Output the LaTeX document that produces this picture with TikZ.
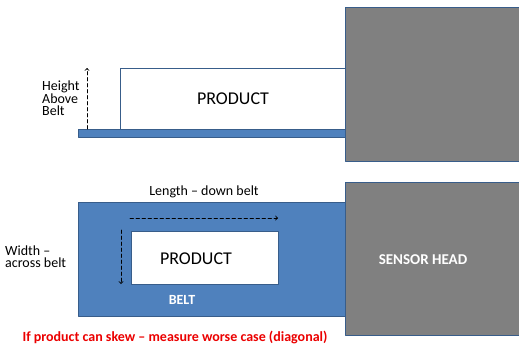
\documentclass[tikz,border=0pt]{standalone}
\usepackage{fontspec}
\setmainfont{Carlito}
\usetikzlibrary{arrows}
\definecolor{beltblue}{RGB}{79,129,189}
\definecolor{edgeblue}{RGB}{56,93,138}
\definecolor{headgray}{RGB}{128,128,128}
\definecolor{warnred}{RGB}{235,0,0}
\newcommand{\smalltxt}{\fontsize{14}{15}\selectfont}
\newcommand{\bigtxt}{\fontsize{18}{20}\selectfont}

\begin{document}
\begin{tikzpicture}[line cap=round,line join=round,>=to,x=1pt,y=-1pt]
\useasboundingbox (0,0) rectangle (519,346);
\clip (0,0) rectangle (519,346);
\tikzset{box/.style={draw=edgeblue,line width=1pt},
  dim/.style={dashed,->,line width=0.9pt,dash pattern=on 3.5pt off 2.5pt}}
% belts
\draw[box,fill=beltblue] (78,129) rectangle (345,137);
\draw[box,fill=beltblue] (78,202) rectangle (345,316);
% products
\draw[box,fill=white] (120,68) rectangle (345,129);
\draw[box,fill=white] (131,231) rectangle (278,284);
% sensor heads
\draw[box,fill=headgray] (345,7) rectangle (530,161);
\draw[box,fill=headgray] (345,182) rectangle (530,335);
% texts
\node (prodside) at (233,99) {\bigtxt PRODUCT};
\node (prodtop) at (196,259) {\bigtxt PRODUCT};
\node (height) [anchor=west,align=left,inner sep=0pt] at (42,98) {\smalltxt Height\\\smalltxt Above\\\smalltxt Belt};
\node (length) at (204,192) {\smalltxt Length -- down belt};
\node (width) [anchor=west,align=left,inner sep=0pt] at (5,257) {\smalltxt Width --\\\smalltxt across belt};
\node (belt) [text=white] at (182,300) {\smalltxt\bfseries BELT};
\node (sensor) [text=white] at (423,260) {\fontsize{15}{16}\selectfont\bfseries SENSOR HEAD};
\node (skew) [text=warnred] at (175,337) {\smalltxt\bfseries If product can skew -- measure worse case (diagonal)};
% dimension arrows
\coordinate (h0) at (87,129);
\coordinate (h1) at (87,68);
\coordinate (l0) at (130,218);
\coordinate (l1) at (278,218);
\coordinate (w0) at (121,230);
\coordinate (w1) at (121,284);
\draw[dim] (h0) -- (h1);
\draw[dim] (l0) -- (l1);
\draw[dim] (w0) -- (w1);
\end{tikzpicture}
\end{document}
